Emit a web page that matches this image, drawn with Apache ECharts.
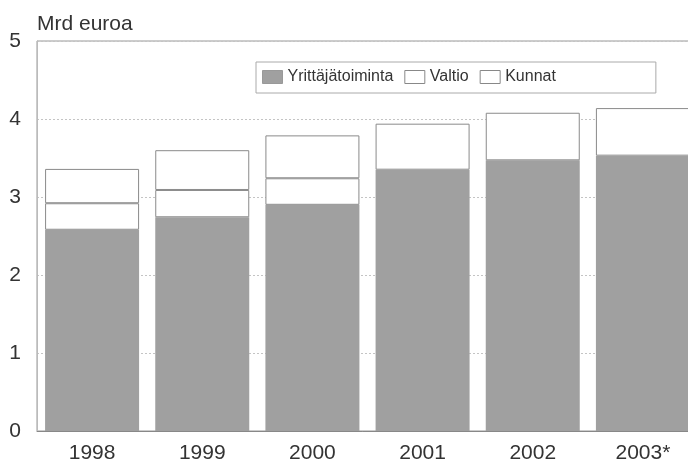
<!DOCTYPE html>
<html>
<head>
<meta charset="utf-8">
<script src="https://cdn.jsdelivr.net/npm/echarts@6/dist/echarts.min.js"></script>
<style>
html,body{margin:0;padding:0;background:#fff;}
#chart{width:688px;height:464px;}
</style>
</head>
<body>
<div id="chart"></div>
<script>
const categories = ['1998', '1999', '2000', '2001', '2002', '2003*'];
const yrittajatoiminta = [2.58, 2.74, 2.90, 3.35, 3.47, 3.53];
const valtio = [0.34, 0.35, 0.34, null, null, null];
const kunnat = [0.44, 0.51, 0.55, 0.59, 0.61, 0.61];
const yTicks = [0, 1, 2, 3, 4, 5];

const FONT = '"Liberation Sans", Arial, sans-serif';
const chart = echarts.init(document.getElementById('chart'), null, {renderer: 'canvas'});

const barStyle = (fill) => ({color: fill, borderColor: '#8a8a8a', borderWidth: 1});

chart.setOption({
  animation: false,
  backgroundColor: '#fff',
  title: {
    text: 'Mrd euroa',
    left: 37, top: 14, padding: 0,
    textStyle: {fontFamily: FONT, fontSize: 21, fontWeight: 'normal', color: '#333'}
  },
  legend: {
    left: 256, top: 62,
    padding: [7, 100, 8, 6],
    borderColor: '#aaa', borderWidth: 1,
    itemWidth: 20, itemHeight: 13, itemGap: 11,
    textStyle: {fontFamily: FONT, fontSize: 16, color: '#333'},
    data: [
      {name: 'Yrittäjätoiminta', icon: 'rect', itemStyle: {color: '#a0a0a0', borderColor: '#999', borderWidth: 1}},
      {name: 'Valtio', icon: 'rect', itemStyle: {color: '#fff', borderColor: '#888', borderWidth: 1}},
      {name: 'Kunnat', icon: 'rect', itemStyle: {color: '#fff', borderColor: '#888', borderWidth: 1}}
    ]
  },
  grid: {
    left: 37, top: 41, width: 661, height: 390,
    containLabel: false, outerBoundsMode: 'none',
    show: true, borderColor: '#999', borderWidth: 1, backgroundColor: 'transparent'
  },
  xAxis: {
    type: 'category',
    data: categories,
    axisTick: {show: false},
    axisLine: {lineStyle: {color: '#888', width: 1}},
    axisLabel: {fontFamily: FONT, fontSize: 21, color: '#333', margin: 12}
  },
  yAxis: {
    type: 'value',
    min: yTicks[0], max: yTicks[yTicks.length - 1], interval: 1,
    axisLine: {show: true, lineStyle: {color: '#bbb'}},
    axisTick: {show: false},
    axisLabel: {fontFamily: FONT, fontSize: 21, color: '#333', margin: 16},
    splitLine: {show: true, lineStyle: {color: '#c4c4c4', type: [2, 2]}}
  },
  series: [
    {name: 'Yrittäjätoiminta', type: 'bar', stack: 'a', data: yrittajatoiminta, barWidth: 94, itemStyle: {color: '#a0a0a0', borderColor: '#a0a0a0', borderWidth: 0}},
    {name: 'Valtio', type: 'bar', stack: 'a', data: valtio, barWidth: 94, itemStyle: barStyle('#fff')},
    {name: 'Kunnat', type: 'bar', stack: 'a', data: kunnat, barWidth: 94, itemStyle: barStyle('#fff')}
  ]
});
</script>
</body>
</html>
